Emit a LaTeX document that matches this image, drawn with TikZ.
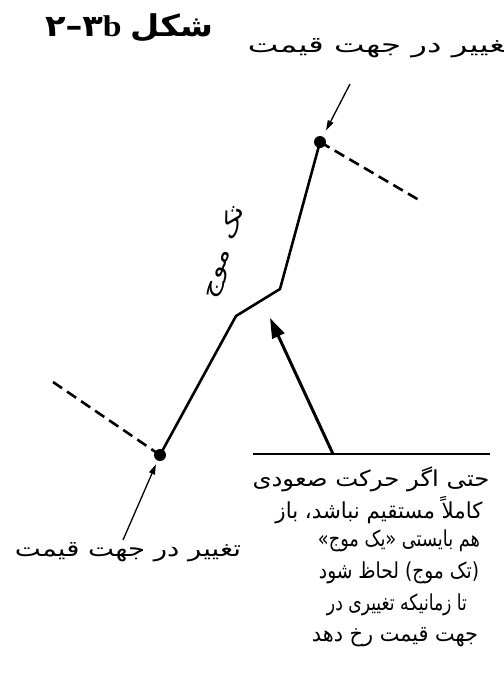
\documentclass[tikz,border=0pt]{standalone}
\usepackage{fontspec}
\usepackage{graphicx}
\setmainfont{Liberation Serif}
\newfontfamily\arabicfont[Script=Arabic]{DejaVu Sans}
\newfontfamily\digitfont{DejaVu Sans}
\TeXXeTstate=1
\usetikzlibrary{arrows.meta}
\newcommand\fitw[2]{\resizebox{#1}{\height}{#2}}
\begin{document}
\begin{tikzpicture}[x=1pt,y=-1pt,
  mainline/.style={line width=2.6pt, line join=miter},
  dashline/.style={line width=2.6pt, dash pattern=on 11pt off 6pt},
  thinarrow/.style={line width=1.3pt, -{Triangle[length=10pt,width=6pt]}},
  bigarrow/.style={line width=3pt, -{Triangle[length=20pt,width=13pt]}},
  dotnode/.style={circle, fill, inner sep=0pt, minimum size=12pt},
  lbl/.style={font=\arabicfont\fontsize{22}{26}\selectfont, inner sep=0pt},
]
\useasboundingbox (0,0) rectangle (504,689);
% title
\node[font=\fontsize{30}{34}\selectfont, inner sep=0pt] (title) at (129,28)
  {\fitw{168pt}{{\digitfont\bfseries ۲–۳}{\bfseries b}\ {\arabicfont\bfseries\beginR شکل\endR}}};
% dots and line
\node[dotnode] (top) at (320,142) {};
\node[dotnode] (bot) at (160,455) {};
\coordinate (c1) at (236,316);
\coordinate (c2) at (280,289);
\coordinate (dl) at (53,382);
\coordinate (dr) at (419,200);
\draw[mainline] (bot.center) -- (c1) -- (c2) -- (top.center);
\draw[dashline] (dl) -- (bot.center);
\draw[dashline] (top.center) -- (dr);
% labels
\node[lbl] (toplbl) at (381,48) {\fitw{266pt}{\beginR تغییر در جهت قیمت\endR}};
\node[lbl] (botlbl) at (128,552) {\fitw{226pt}{\beginR تغییر در جهت قیمت\endR}};
\node[lbl, rotate=72] (wave) at (224,252) {\fitw{96pt}{\beginR تک موج\endR}};
% thin arrows
\coordinate (a1) at (350,84);
\coordinate (a2) at (123,540);
\draw[thinarrow, shorten >=7pt] (a1) -- (top);
\draw[thinarrow, shorten >=4pt] (a2) -- (bot);
% horizontal rule and big arrow
\coordinate (hl) at (253,454);
\coordinate (hr) at (490,454);
\coordinate (hm) at (333,454);
\coordinate (tip) at (270,318);
\draw[line width=1.5pt] (hl) -- (hr);
\draw[bigarrow] (hm) -- (tip);
% paragraph
\node[lbl] (p1) at (371,479) {\fitw{237pt}{\beginR حتی اگر حرکت صعودی\endR}};
\node[lbl] (p2) at (379,510) {\fitw{207pt}{\beginR کاملاً مستقیم نباشد، باز\endR}};
\node[lbl] (p3) at (399,541) {\fitw{162pt}{\beginR هم بایستی «یک موج»\endR}};
\node[lbl] (p4) at (399,573) {\fitw{160pt}{\beginR (تک موج) لحاظ شود\endR}};
\node[lbl] (p5) at (397,605) {\fitw{140pt}{\beginR تا زمانیکه تغییری در\endR}};
\node[lbl] (p6) at (395,637) {\fitw{166pt}{\beginR جهت قیمت رخ دهد\endR}};
\end{tikzpicture}
\end{document}
